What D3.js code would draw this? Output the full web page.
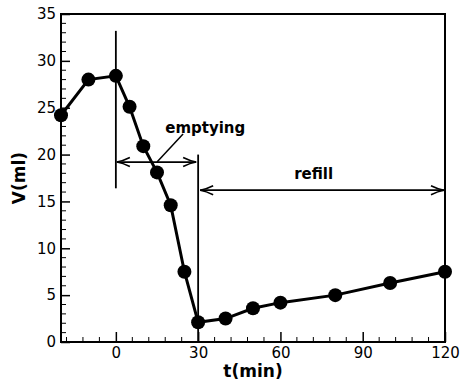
<!DOCTYPE html>
<html>
<head>
<meta charset="utf-8">
<script src="https://cdn.jsdelivr.net/npm/d3@7"></script>
<style>
  body { margin: 0; background: #fff; }
  svg { display: block; }
</style>
</head>
<body>
<div id="chart"></div>
<script>
// volume measurements over time
const times = [-20, -10, 0, 5, 10, 15, 20, 25, 30, 40, 50, 60, 80, 100, 120];
const volumes = [24.2, 28.0, 28.4, 25.1, 20.9, 18.1, 14.6, 7.5, 2.1, 2.5, 3.6, 4.2, 5.0, 6.3, 7.5];

const xTicks = [0, 30, 60, 90, 120];
const yTicks = [0, 5, 10, 15, 20, 25, 30, 35];

const width = 460;
const height = 387;
const margin = { top: 14, right: 15, bottom: 45, left: 61 };

const svg = d3.select("#chart").append("svg")
    .attr("width", width)
    .attr("height", height);

const x = d3.scaleLinear()
    .domain([-20, 120])
    .range([margin.left, width - margin.right]);

const y = d3.scaleLinear()
    .domain([0, 35])
    .range([height - margin.bottom, margin.top]);

const defs = svg.append("defs");
defs.append("marker")
    .attr("id", "head")
    .attr("viewBox", "-14 -6 15 12")
    .attr("refX", 0)
    .attr("refY", 0)
    .attr("markerWidth", 15)
    .attr("markerHeight", 12)
    .attr("markerUnits", "userSpaceOnUse")
    .attr("orient", "auto-start-reverse")
    .append("path")
    .attr("d", "M-13,-4.5 Q-6,-1 0,0 Q-6,1 -13,4.5")
    .attr("fill", "none")
    .attr("stroke", "#000")
    .attr("stroke-width", 1.6);

// minor ticks (inside)
const xMinor = d3.range(-18, 121, 6).filter(d => !xTicks.includes(d));
const yMinor = d3.range(1, 35, 1).filter(d => d % 5 !== 0);

svg.append("g")
    .selectAll("line")
    .data(xMinor)
    .join("line")
    .attr("x1", d => x(d)).attr("x2", d => x(d))
    .attr("y1", y(0)).attr("y2", y(0) - 5)
    .attr("stroke", "#000").attr("stroke-width", 1);

svg.append("g")
    .selectAll("line")
    .data(yMinor)
    .join("line")
    .attr("x1", x(-20)).attr("x2", x(-20) + 5)
    .attr("y1", d => y(d)).attr("y2", d => y(d))
    .attr("stroke", "#000").attr("stroke-width", 1);

// major ticks via axes, drawn inward
const xAxis = svg.append("g")
    .attr("transform", `translate(0,${y(0)})`)
    .call(d3.axisBottom(x).tickValues(xTicks).tickSizeInner(-10).tickSizeOuter(0).tickPadding(5));

const yAxis = svg.append("g")
    .attr("transform", `translate(${x(-20)},0)`)
    .call(d3.axisLeft(y).tickValues(yTicks).tickSizeInner(-9).tickSizeOuter(0).tickPadding(5));

[xAxis, yAxis].forEach(g => {
    g.select(".domain").remove();
    g.selectAll(".tick line").attr("stroke-width", 1.5);
    g.selectAll(".tick text")
        .attr("font-family", "DejaVu Sans, sans-serif")
        .attr("font-size", 15)
        .attr("fill", "#000");
});

// frame
svg.append("rect")
    .attr("x", x(-20))
    .attr("y", y(35))
    .attr("width", x(120) - x(-20))
    .attr("height", y(0) - y(35))
    .attr("fill", "none")
    .attr("stroke", "#000")
    .attr("stroke-width", 2);

// annotations
svg.append("line")
    .attr("x1", x(0)).attr("x2", x(0))
    .attr("y1", y(33.2)).attr("y2", y(16.4))
    .attr("stroke", "#000").attr("stroke-width", 1.8);

svg.append("line")
    .attr("x1", x(30)).attr("x2", x(30))
    .attr("y1", y(20)).attr("y2", y(0))
    .attr("stroke", "#000").attr("stroke-width", 1.8);

svg.append("line")
    .attr("x1", x(0) + 1).attr("x2", x(30) - 2)
    .attr("y1", y(19.2)).attr("y2", y(19.2))
    .attr("stroke", "#000").attr("stroke-width", 1.8)
    .attr("marker-start", "url(#head)")
    .attr("marker-end", "url(#head)");

svg.append("line")
    .attr("x1", x(30) + 2).attr("x2", x(120) - 1)
    .attr("y1", y(16.2)).attr("y2", y(16.2))
    .attr("stroke", "#000").attr("stroke-width", 1.8)
    .attr("marker-start", "url(#head)")
    .attr("marker-end", "url(#head)");

svg.append("line")
    .attr("x1", x(24.5)).attr("x2", x(15))
    .attr("y1", y(22.2)).attr("y2", y(19.2))
    .attr("stroke", "#000").attr("stroke-width", 1.5);

svg.append("text")
    .attr("x", x(18))
    .attr("y", y(22.3))
    .attr("font-family", "DejaVu Sans, sans-serif")
    .attr("font-weight", "bold")
    .attr("font-size", 15)
    .text("emptying");

svg.append("text")
    .attr("x", x(65))
    .attr("y", y(17.4))
    .attr("font-family", "DejaVu Sans, sans-serif")
    .attr("font-weight", "bold")
    .attr("font-size", 15)
    .text("refill");

// data line and markers
const data = times.map((t, i) => ({ t: t, v: volumes[i] }));

svg.append("path")
    .datum(data)
    .attr("d", d3.line().x(d => x(d.t)).y(d => y(d.v)))
    .attr("fill", "none")
    .attr("stroke", "#000")
    .attr("stroke-width", 3);

svg.append("g")
    .selectAll("circle")
    .data(data)
    .join("circle")
    .attr("cx", d => x(d.t))
    .attr("cy", d => y(d.v))
    .attr("r", 7)
    .attr("fill", "#000");

// axis titles
svg.append("text")
    .attr("x", (x(-20) + x(120)) / 2)
    .attr("y", 377)
    .attr("text-anchor", "middle")
    .attr("font-family", "DejaVu Sans, sans-serif")
    .attr("font-weight", "bold")
    .attr("font-size", 17)
    .text("t(min)");

svg.append("text")
    .attr("transform", `translate(25,${(y(0) + y(35)) / 2}) rotate(-90)`)
    .attr("text-anchor", "middle")
    .attr("font-family", "DejaVu Sans, sans-serif")
    .attr("font-weight", "bold")
    .attr("font-size", 17)
    .text("V(ml)");
</script>
</body>
</html>
